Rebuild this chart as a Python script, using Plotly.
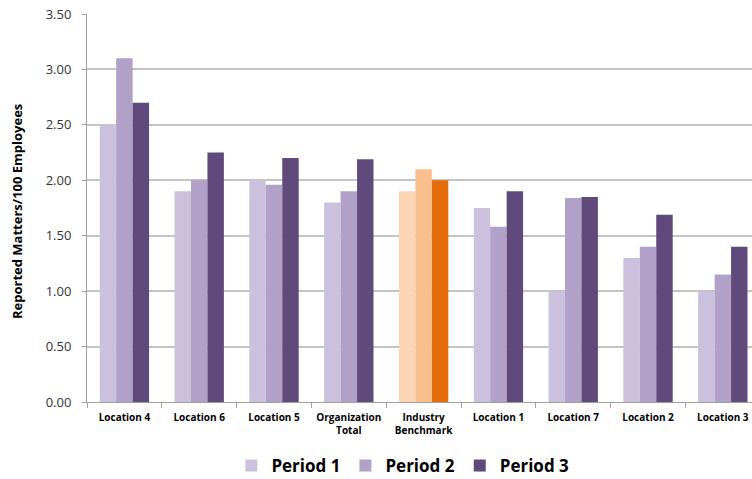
import plotly.graph_objects as go

categories = ["Location 4", "Location 6", "Location 5", "Organization<br>Total",
              "Industry<br>Benchmark", "Location 1", "Location 7", "Location 2", "Location 3"]
period1 = [2.50, 1.90, 2.00, 1.80, 1.90, 1.75, 1.00, 1.30, 1.00]
period2 = [3.10, 2.00, 1.96, 1.90, 2.10, 1.58, 1.84, 1.40, 1.15]
period3 = [2.70, 2.25, 2.20, 2.19, 2.00, 1.90, 1.85, 1.69, 1.40]
y_ticks = [0, 0.5, 1.0, 1.5, 2.0, 2.5, 3.0, 3.5]

purple = ["#ccc1dd", "#b1a0c7", "#604a7b"]
orange = ["#fcd5b4", "#fabf8f", "#e46c0a"]
benchmark_idx = 4

series = [("Period 1", period1), ("Period 2", period2), ("Period 3", period3)]

fig = go.Figure()
for i, (name, vals) in enumerate(series):
    colors = [orange[i] if k == benchmark_idx else purple[i] for k in range(len(categories))]
    fig.add_trace(go.Bar(name=name, x=categories, y=vals,
                         marker=dict(color=colors, line=dict(width=0))))

fig.update_layout(
    width=752, height=479,
    margin=dict(l=87, r=0, t=14, b=77, autoexpand=False),
    paper_bgcolor="white", plot_bgcolor="white",
    barmode="group", bargap=0.34, bargroupgap=0,
    font=dict(family="Open Sans, Liberation Sans, sans-serif", color="#262626"),
    showlegend=True,
    legend=dict(orientation="h", x=0.475, xanchor="center", y=-0.165, yanchor="middle",
                font=dict(size=17, color="#000000", family="Open Sans, sans-serif",
                          weight="bold"),
                itemwidth=30, traceorder="normal"),
)
fig.update_xaxes(
    range=[-0.5, 8.39], tickson="boundaries", ticks="outside", ticklen=5,
    tickcolor="#a0a0a0", showline=True, linecolor="#a0a0a0", linewidth=1,
    tickangle=0, ticklabelstandoff=6,
    tickfont=dict(size=10, color="#000000", family="Open Sans, sans-serif", weight="bold"),
    showgrid=False,
)
fig.update_yaxes(
    range=[0, 3.5], tickvals=y_ticks, ticktext=[f"{v:.2f}" for v in y_ticks],
    showgrid=True, gridcolor="#c4c4c4", gridwidth=1.5,
    showline=True, linecolor="#a0a0a0", linewidth=1,
    ticks="outside", ticklen=4, tickcolor="#a0a0a0", ticklabelstandoff=8,
    tickfont=dict(size=13, color="#333333"), zeroline=False,
)
fig.add_annotation(
    text="<b>Reported Matters/100 Employees</b>", textangle=-90,
    xref="paper", yref="paper", x=-0.105, y=0.49, xanchor="center", yanchor="middle",
    showarrow=False, font=dict(size=13, color="#000000"),
)

fig.write_html("out.html")
